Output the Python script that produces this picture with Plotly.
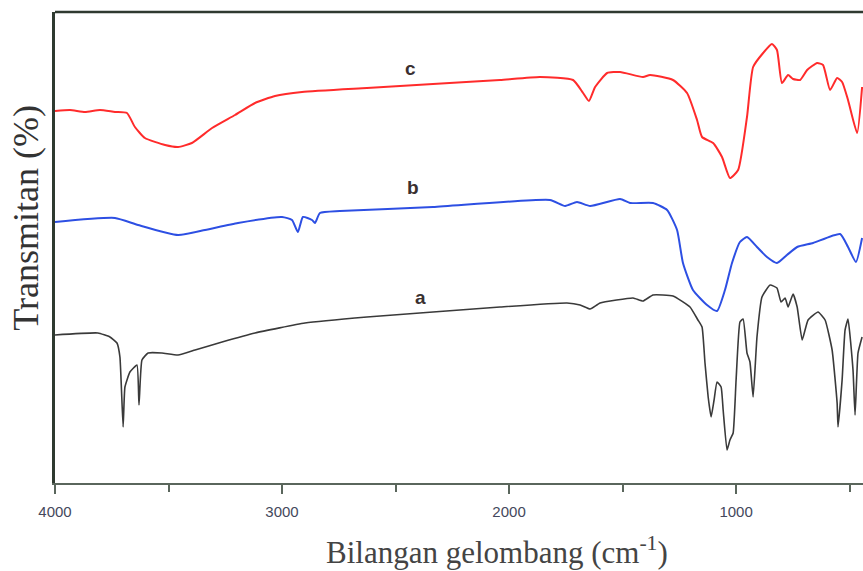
import plotly.graph_objects as go

# Wavenumbers (cm^-1) and transmittance (arbitrary units)
wn_c = [4000, 3934, 3868, 3802, 3736, 3683, 3648, 3604, 3515, 3458, 3397, 3308, 3207, 3119, 3031, 2912,
        2626, 2335, 2040, 1864, 1718, 1674, 1648, 1621, 1568, 1511, 1410, 1379, 1278, 1216, 1172, 1150,
        1101, 1062, 1027, 991, 952, 925, 881, 842, 820, 798, 771, 749, 718, 687, 643, 617, 586, 555,
        533, 507, 467, 445]
t_c = [372, 373, 371, 373, 371, 370, 356, 345, 338, 336, 340, 355, 368, 380, 387, 391,
       395, 399, 403, 406, 403, 390, 382, 396, 410, 411, 406, 408, 403, 390, 363, 346,
       340, 326, 305, 313, 366, 416, 430, 439, 433, 400, 408, 404, 403, 413, 420, 418, 393, 405,
       401, 383, 350, 396]

wn_b = [4000, 3736, 3634, 3458, 3339, 3194, 3000, 2956, 2930, 2908, 2868, 2855, 2833, 2745, 2335,
        1820, 1753, 1701, 1643, 1511, 1467, 1366, 1304, 1260, 1234, 1190, 1128, 1084, 1049, 1018,
        983, 952, 908, 864, 820, 776, 731, 661, 542, 507, 472, 445]
t_b = [261, 265, 258, 248, 253, 260, 266, 263, 251, 266, 263, 260, 270, 272, 276,
       283, 277, 281, 277, 284, 280, 280, 273, 253, 220, 193, 178, 172, 193, 220,
       241, 246, 236, 226, 220, 228, 236, 240, 249, 236, 221, 245]

wn_a = [4000, 3811, 3758, 3727, 3714, 3700, 3692, 3670, 3639, 3630, 3617, 3590, 3529, 3458, 3383,
        3264, 3119, 2899, 2626, 2335, 2040, 1745, 1687, 1643, 1599, 1454, 1410, 1366, 1278, 1203,
        1168, 1150, 1137, 1123, 1110, 1097, 1084, 1066, 1057, 1040, 1027, 1013, 1000, 983, 969,
        952, 939, 925, 908, 886, 850, 820, 802, 784, 771, 749, 731, 709, 683, 639, 608, 577, 555,
        551, 533, 520, 507, 485, 476, 463, 445]
t_a = [148, 150, 146, 140, 126, 56, 96, 111, 118, 78, 123, 130, 130, 128, 133,
       141, 150, 160, 166, 171, 176, 180, 178, 174, 180, 185, 182, 188, 187, 176,
       163, 156, 120, 86, 66, 83, 101, 96, 73, 33, 43, 50, 103, 161, 164,
       130, 121, 86, 146, 186, 198, 195, 181, 185, 176, 189, 176, 143, 163, 171, 163, 133, 80,
       56, 103, 153, 164, 113, 68, 130, 146]

series_labels = ["a", "b", "c"]
label_wn = [2388, 2423, 2436]
label_t = [186, 296, 415]

fig = go.Figure()
fig.add_trace(go.Scatter(x=wn_a, y=t_a, mode="lines", line=dict(color="#3a3a3a", width=1.6, shape="spline", smoothing=0.4), name="a"))
fig.add_trace(go.Scatter(x=wn_b, y=t_b, mode="lines", line=dict(color="#2d4fe3", width=2, shape="spline", smoothing=0.5), name="b"))
fig.add_trace(go.Scatter(x=wn_c, y=t_c, mode="lines", line=dict(color="#ff2b2b", width=2, shape="spline", smoothing=0.5), name="c"))

for lab, xw, yt in zip(series_labels, label_wn, label_t):
    fig.add_annotation(x=xw, y=yt, text=f"<b>{lab}</b>", showarrow=False,
                       font=dict(family="Liberation Sans, Arial", size=19, color="#3a3030"))

fig.add_annotation(xref="paper", yref="paper", x=0.547, y=-0.144, yanchor="middle",
                   text="Bilangan gelombang (cm<sup>-1</sup>)",
                   showarrow=False, font=dict(family="Liberation Serif, Times New Roman", size=31, color="#444444"))
fig.add_annotation(xref="paper", yref="paper", x=-0.036, y=0.563, xanchor="center", text="Transmitan (%)", textangle=-90,
                   showarrow=False, font=dict(family="Liberation Serif, Times New Roman", size=36, color="#333333"))

# top frame line
fig.add_shape(type="line", xref="paper", yref="paper", x0=0, x1=1, y0=1, y1=1,
              line=dict(color="#2f3a30", width=2.5))

fig.update_layout(
    width=863, height=571,
    margin=dict(l=55, r=0, t=12, b=88),
    paper_bgcolor="white", plot_bgcolor="white",
    showlegend=False,
    xaxis=dict(range=[4000, 441], showgrid=False, zeroline=False,
               showline=True, linecolor="#5a665c", linewidth=2,
               ticks="outside", ticklen=9, tickwidth=2, tickcolor="#5a665c",
               tick0=0, dtick=1000,
               minor=dict(dtick=500, tick0=0, ticks="outside", ticklen=7, tickwidth=2, tickcolor="#5a665c"),
               tickfont=dict(family="Liberation Sans, Arial", size=15, color="#44485c"),
               ticklabelstandoff=5),
    yaxis=dict(range=[0, 471], showgrid=False, zeroline=False, showticklabels=False,
               showline=True, linecolor="#2f3a30", linewidth=2.5, ticks=""),
)

fig.write_html("out.html", config={"displayModeBar": False},
               post_script="document.body.style.margin='0';document.body.style.overflow='hidden';")
